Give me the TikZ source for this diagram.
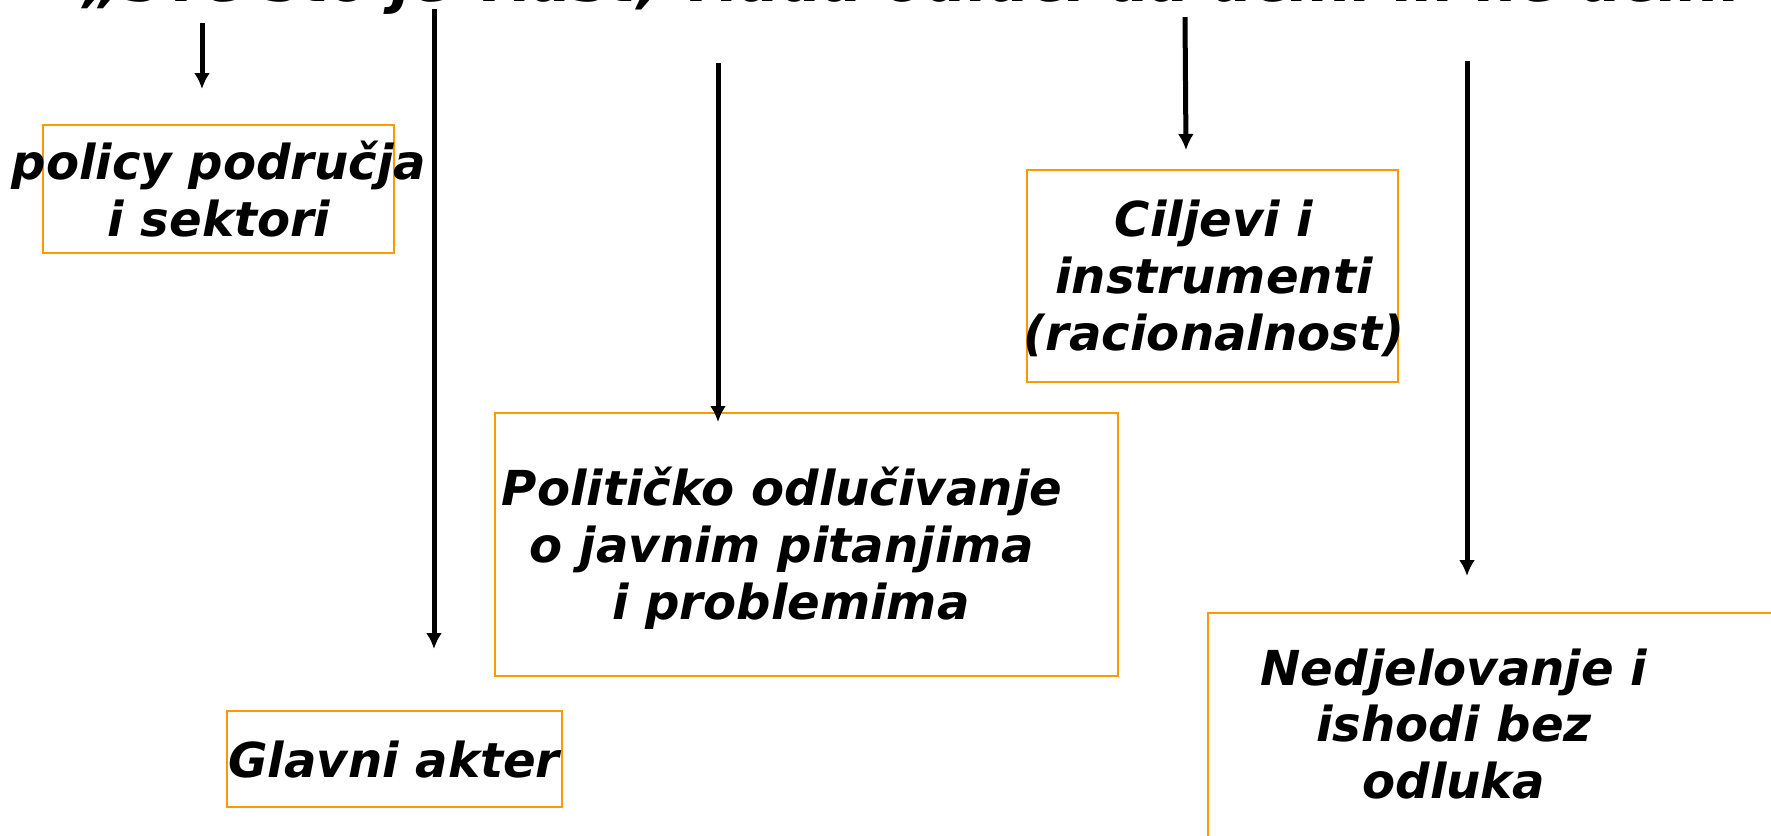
\documentclass[tikz,border=0pt]{standalone}
\usepackage{fontspec}
\setmainfont{DejaVu Sans}
\usepackage{xcolor}
\usetikzlibrary{arrows.meta}
\definecolor{boxorange}{RGB}{255,153,0}

\begin{document}
\begin{tikzpicture}[x=0.1mm,y=-0.1mm]
\tikzset{>={Latex[width=1.6mm,length=1.6mm]}}
\tikzstyle{box} =[draw=boxorange,line width=0.2mm,inner sep=0pt,anchor=north west]
\tikzstyle{txt} =[align=center,inner sep=0pt,font=\fontsize{13.7}{16.2}\selectfont\bfseries\itshape]
\tikzstyle{pil} =[->,line width=0.5mm]

\useasboundingbox (0,0) rectangle (1771,835);

\node[txt,anchor=base,font=\fontsize{17}{20}\selectfont\bfseries\itshape](t) at (932,1){„Sve što je vlast, vlada odluči da učini ili ne učini“};

\node[box,minimum width=35.1mm,minimum height=12.8mm](b1) at (42,124){};
\node[box,minimum width=37.1mm,minimum height=21.2mm](b2) at (1026,169){};
\node[box,minimum width=62.3mm,minimum height=26.3mm](b3) at (494,412){};
\node[box,minimum width=33.5mm,minimum height=9.6mm](b4) at (226,710){};
\node[box,minimum width=60mm,minimum height=26mm](b5) at (1207,612){};

\node[txt](l1) at (219,189){policy područja\\i sektori};
\node[txt](l2) at (1214,278){Ciljevi i\\instrumenti\\(racionalnost)};
\node[txt](l3) at (782,548){Političko odlučivanje\\o javnim pitanjima\\\hspace*{5pt}i problemima};
\node[txt](l4) at (394,760){Glavni akter};
\node[txt](l5) at (1454,724){Nedjelovanje i\\ishodi bez\\odluka};

\coordinate (s1) at (202,23);   \coordinate (e1) at (202,89);
\coordinate (s2) at (434,9);    \coordinate (e2) at (434,649);
\coordinate (s3) at (718,63);   \coordinate (e3) at (718,422);
\coordinate (s4) at (1185,17);  \coordinate (e4) at (1186,150);
\coordinate (s5) at (1467,61);  \coordinate (e5) at (1467,576);

\draw[pil] (s1) -- (e1);
\draw[pil] (s2) -- (e2);
\draw[pil] (s3) -- (e3);
\draw[pil] (s4) -- (e4);
\draw[pil] (s5) -- (e5);
\end{tikzpicture}
\end{document}
